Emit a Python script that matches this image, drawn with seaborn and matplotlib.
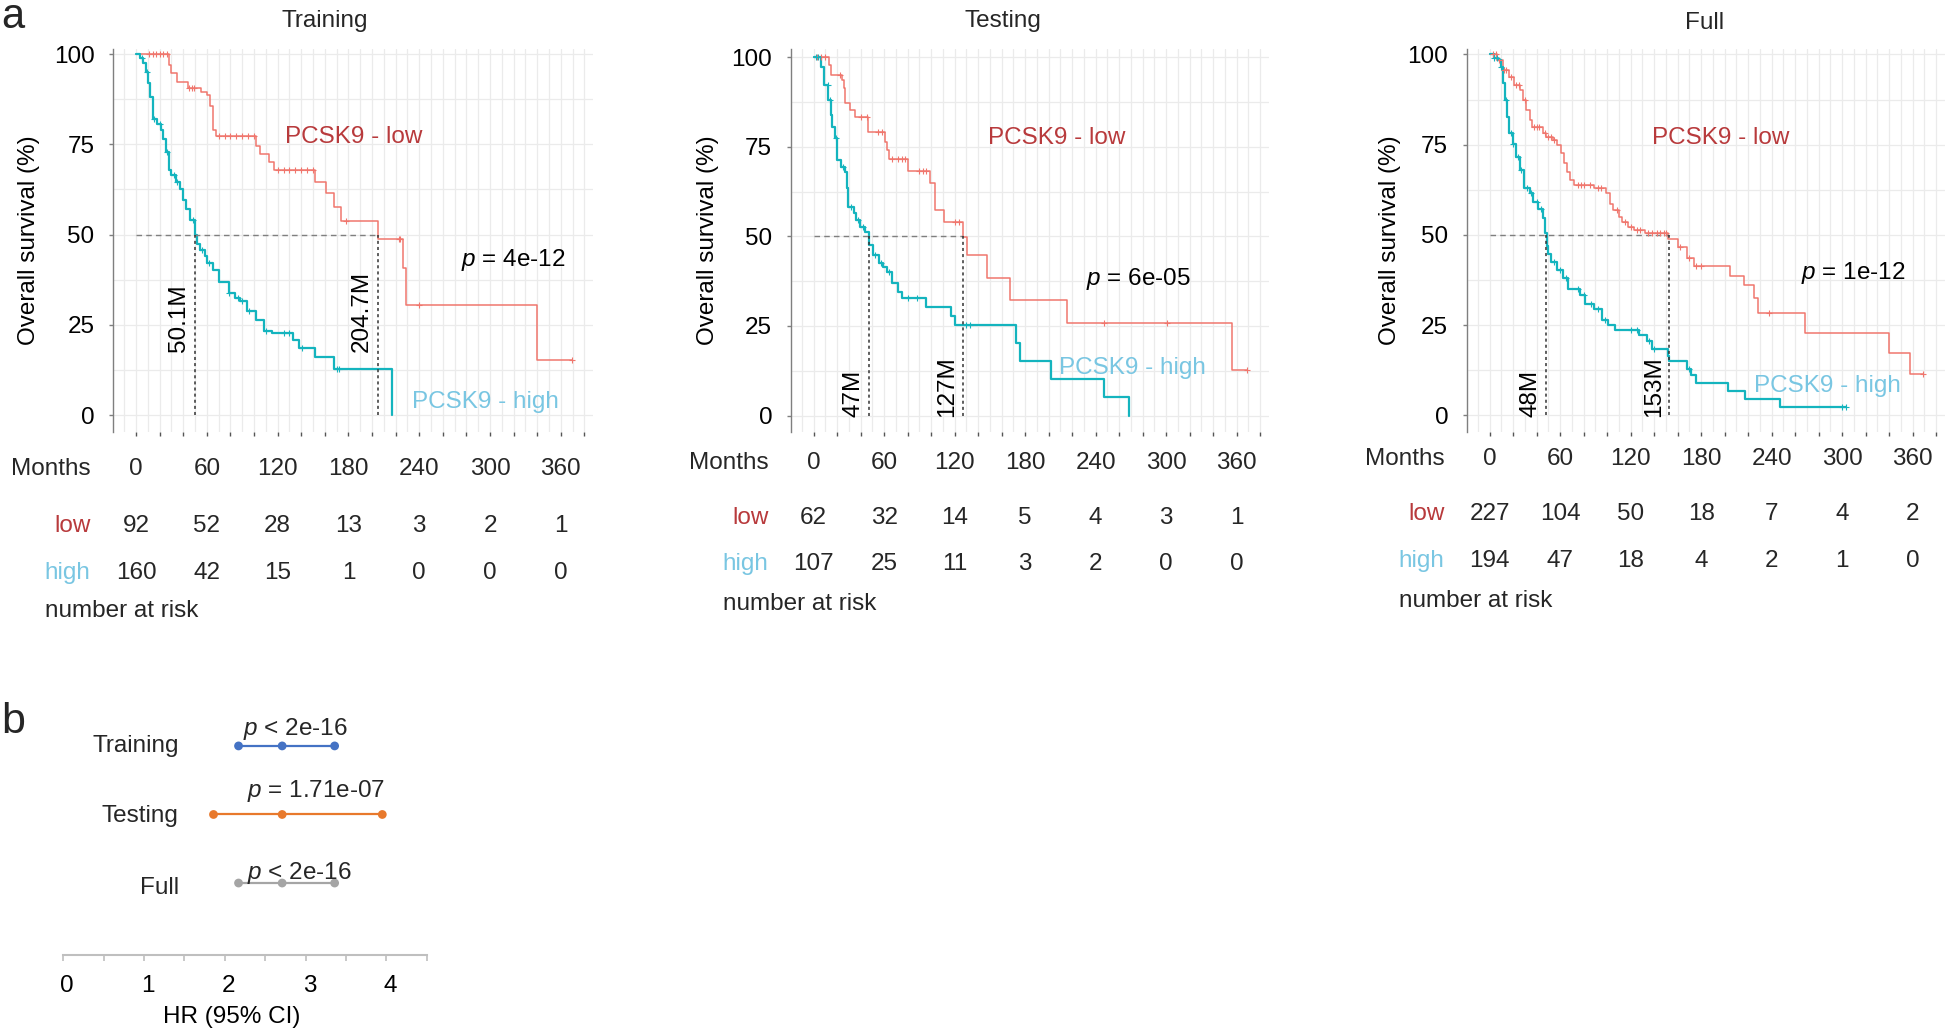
import numpy as np
import pandas as pd
import matplotlib
matplotlib.use("Agg")
import matplotlib.pyplot as plt
import matplotlib.transforms as mtransforms
from matplotlib.ticker import MultipleLocator
import seaborn as sns

# ======================================
# DATA
# ======================================

panel_names = ["Training", "Testing", "Full"]

# Kaplan-Meier steps: month of the step and survival (%) after it
train_low_time = [0, 27.5, 30, 35, 44, 55, 60, 62.5, 65, 68, 102, 105, 113, 117,
                  152, 161, 168, 174, 204.7, 226, 228.5, 340]
train_low_surv = [100, 97, 94.7, 92.2, 90.6, 89.5, 88.7, 85.5, 79, 77.2, 74.4, 72.4, 70, 67.8,
                  64.5, 61.5, 57.6, 53.8, 48.8, 40.7, 30.6, 15.3]
train_low_end = 369.5
train_low_cens = [11, 14, 17, 20, 23, 26, 45, 47, 49, 70, 75, 80, 85, 90, 95, 100, 120, 125,
                  130, 135, 140, 145, 150, 178, 223, 224, 240, 369.5]

train_high_time = [0, 3, 5.5, 8, 10, 12, 14.6, 18, 21, 23, 25, 27.5, 30, 34, 37, 40, 42, 46,
                   50.1, 52, 54, 58, 60, 65, 70, 79, 84, 88, 94, 102, 108.6, 115, 133, 138,
                   152, 168, 217]
train_high_surv = [100, 99, 97.5, 95, 92, 88, 82, 80.5, 79, 76.5, 73, 68, 66.5, 64.7, 62.5,
                   59.5, 57, 54, 50, 47.5, 45.8, 44, 42, 40.3, 36.8, 33.8, 32.5, 31.5, 28.7,
                   26.4, 23.2, 22.7, 20.9, 18.7, 16.1, 12.9, 0]
train_high_end = 217
train_high_cens = [5, 9, 15, 20, 26, 32, 35, 48, 56, 62, 79, 86, 90, 96, 110, 125, 130, 141,
                   170, 172]

test_low_time = [0, 13, 15, 24.5, 26, 27, 31, 35, 46.4, 61, 62.7, 64, 80, 98.7, 103, 111,
                 127.5, 130.7, 147.7, 167, 216, 356]
test_low_surv = [100, 97.9, 95, 93.7, 91.3, 87.2, 85.3, 83.2, 79, 76.4, 74.1, 71.5, 68.3, 64.8,
                 57.5, 54.1, 49.7, 44.8, 38.5, 32.2, 25.9, 12.8]
test_low_end = 368.6
test_low_cens = [3, 6, 10, 22, 40, 45, 55, 58, 67, 72, 75, 78, 90, 93, 96, 120, 124, 247, 301,
                 368.6]

test_high_time = [0, 6.5, 9, 12.4, 14.7, 16, 18, 20, 23, 27, 28, 29, 34, 36, 39, 44, 47.4,
                  50.5, 55.6, 59, 62, 67, 72, 75, 95.8, 117, 120, 172, 176, 202, 246.7, 268]
test_high_surv = [100, 97.4, 92.3, 88, 83.9, 80.6, 77.4, 71.3, 69.5, 68, 63.4, 58.3, 56.4,
                  54.6, 52.7, 51.3, 47.6, 44.8, 42.5, 41.5, 40.1, 36.9, 34.5, 32.7, 30.4, 27.7,
                  25.2, 20.3, 15.3, 10.2, 5.2, 0]
test_high_end = 268
test_high_cens = [2, 4, 12, 14, 19, 25, 32, 38, 42, 52, 57, 64, 80, 88, 130, 133]

full_low_time = [0, 6, 11.7, 16.5, 21, 26, 28.5, 31, 34, 36, 45, 48, 54, 57.6, 60.8, 63.3,
                 65.5, 68.7, 71.8, 89, 98.7, 102, 105, 110, 113, 117.7, 122.5, 132, 152, 160,
                 168, 174, 204.7, 216.5, 225, 228.5, 268, 340, 357.6]
full_low_surv = [100, 98.5, 95.7, 93.8, 91.5, 90.1, 87.3, 84.6, 81.8, 80, 78.1, 77.2, 76.3,
                 74.9, 72.6, 69.8, 67.5, 65.2, 63.8, 62.9, 61.5, 58.7, 56.9, 55, 53.6, 52.3,
                 51.3, 50.4, 48.8, 46.7, 43.5, 41.4, 38.6, 36.1, 32.6, 28.4, 22.9, 17.2, 11.6]
full_low_end = 369
full_low_cens = [3, 5, 8, 12, 14, 18, 22, 25, 30, 38, 40, 42, 47, 50, 52, 55, 75, 78, 80, 85,
                 92, 95, 108, 115, 120, 125, 128, 135, 138, 142, 145, 148, 150, 162, 170, 176,
                 180, 238, 369]

full_high_time = [0, 3.8, 7, 9.5, 11, 13.3, 15, 16.5, 19.6, 22.8, 26, 29, 34, 37, 41, 45,
                  47.5, 48.5, 49.7, 52, 57.6, 62, 67, 76.6, 81, 89, 95.6, 101, 106.6, 127,
                  133.5, 138, 152, 153, 167.7, 171, 176, 203, 217, 247.5]
full_high_surv = [100, 99, 98.4, 96.6, 92, 87.3, 82.7, 78.1, 75.3, 71.7, 68, 62.9, 61.5, 59.2,
                  57.3, 54.6, 50.4, 47, 44.8, 42.6, 40.3, 38, 34.9, 33.3, 31, 29.4, 26.4, 25,
                  23.6, 22.4, 20.7, 18.3, 16.4, 15.1, 13, 11.2, 8.9, 6.8, 4.6, 2.4]
full_high_end = 303
full_high_cens = [4, 6, 10, 14, 18, 20, 24, 27, 32, 35, 40, 44, 55, 60, 65, 75, 80, 86, 92,
                  98, 120, 125, 136, 140, 170, 300, 303]

# medians (months) and log-rank p
train_medians = [50.1, 204.7]
test_medians = [47, 127]
full_medians = [48, 153]
median_labels_train = ["50.1M", "204.7M"]
median_labels_test = ["47M", "127M"]
median_labels_full = ["48M", "153M"]
km_pvalues = ["4e-12", "6e-05", "1e-12"]

# number at risk
risk_months = [0, 60, 120, 180, 240, 300, 360]
train_risk_low = [92, 52, 28, 13, 3, 2, 1]
train_risk_high = [160, 42, 15, 1, 0, 0, 0]
test_risk_low = [62, 32, 14, 5, 4, 3, 1]
test_risk_high = [107, 25, 11, 3, 2, 0, 0]
full_risk_low = [227, 104, 50, 18, 7, 4, 2]
full_risk_high = [194, 47, 18, 4, 2, 1, 0]

# forest plot (panel b)
forest_labels = ["Training", "Testing", "Full"]
forest_hr = [2.71, 2.71, 2.71]
forest_lower = [2.17, 1.86, 2.17]
forest_upper = [3.36, 3.95, 3.36]
forest_p = ["< 2e-16", "= 1.71e-07", "< 2e-16"]

# ======================================
# STYLE
# ======================================

W, H = 1945, 1033
FS = 17.5
RED = "#F0766D"
CYAN = "#14B4BE"
RED_TXT = "#B83A3C"
CYAN_TXT = "#79C6E2"
GRID = "#EBEBEB"
FOREST_COLORS = ["#4472C4", "#E8792C", "#A5A5A5"]

sns.set_theme(style="whitegrid")
plt.rcParams["font.family"] = ["Liberation Sans", "DejaVu Sans"]
plt.rcParams["mathtext.fontset"] = "custom"
plt.rcParams["mathtext.it"] = "Liberation Sans:italic"
plt.rcParams["mathtext.rm"] = "Liberation Sans"
plt.rcParams["axes.unicode_minus"] = False

fig = plt.figure(figsize=(W / 100, H / 100), dpi=100)
fig.patch.set_facecolor("white")


def fy(p):
    return 1 - p / H


def add_axes_px(left, top, right, bottom):
    return fig.add_axes([left / W, 1 - bottom / H, (right - left) / W, (bottom - top) / H])


def step_frame(times, surv, end):
    return pd.DataFrame({"t": list(times) + [end], "s": list(surv) + [surv[-1]]})


def censor_frame(times, surv, cens):
    idx = np.searchsorted(np.array(times), np.array(cens), side="right") - 1
    return pd.DataFrame({"t": cens, "s": np.array(surv)[idx]})


panels = [
    dict(name="Training",
         low=(train_low_time, train_low_surv, train_low_end, train_low_cens),
         high=(train_high_time, train_high_surv, train_high_end, train_high_cens),
         medians=train_medians, mlabels=median_labels_train, p=km_pvalues[0],
         risk_low=train_risk_low, risk_high=train_risk_high,
         rect=(113.3, 49, 593.3, 431.7), ylim=(-4.6, 101.4), title_xy=(325, 26.7),
         ylab_x=-0.153, rows=(475.4, 531.7, 578.7, 616.7), mlab_y=17.5,
         low_xy=(126, 75.3), high_xy=(234, 2.1), p_xy=(275, 41.4)),
    dict(name="Testing",
         low=(test_low_time, test_low_surv, test_low_end, test_low_cens),
         high=(test_high_time, test_high_surv, test_high_end, test_high_cens),
         medians=test_medians, mlabels=median_labels_test, p=km_pvalues[1],
         risk_low=test_risk_low, risk_high=test_risk_high,
         rect=(791, 49, 1269, 431.7), ylim=(-4.5, 102.3), title_xy=(1003, 26.7),
         ylab_x=-0.151, rows=(468.7, 523.7, 570.4, 610.4), mlab_y=-0.3,
         low_xy=(148.6, 75.9), high_xy=(208.4, 11.6), p_xy=(231.4, 36.3)),
    dict(name="Full",
         low=(full_low_time, full_low_surv, full_low_end, full_low_cens),
         high=(full_high_time, full_high_surv, full_high_end, full_high_cens),
         medians=full_medians, mlabels=median_labels_full, p=km_pvalues[2],
         risk_low=full_risk_low, risk_high=full_risk_high,
         rect=(1467, 49, 1945, 431.7), ylim=(-4.5, 101.5), title_xy=(1705, 29.3),
         ylab_x=-0.138, rows=(465.4, 520.4, 566.7, 606.7), mlab_y=-0.3,
         low_xy=(138.5, 75.3), high_xy=(224.6, 6.5), p_xy=(264.6, 37.8)),
]

# ======================================
# PANEL a : KAPLAN-MEIER CURVES
# ======================================

for pn in panels:
    ax = add_axes_px(*pn["rect"])
    ax.set_facecolor("white")
    ax.set_axisbelow(True)

    for key, color, lw in [("low", RED, 1.1), ("high", CYAN, 1.6)]:
        times, surv, end, cens = pn[key]
        sns.lineplot(data=step_frame(times, surv, end), x="t", y="s", drawstyle="steps-post",
                     estimator=None, sort=False, color=color, lw=lw, ax=ax)
        cf = censor_frame(times, surv, cens)
        ax.scatter(cf["t"], cf["s"], marker="+", s=24, color=color, linewidths=0.8, zorder=3)

    # median guides
    m_hi = max(pn["medians"])
    ax.plot([0, m_hi], [50, 50], color="#7F7F7F", lw=1.0, dashes=(4, 3))
    for m, lab in zip(pn["medians"], pn["mlabels"]):
        ax.plot([m, m], [0, 50], color="#333333", lw=1.1, dashes=(2, 2))
        ax.text(m - 4, pn["mlab_y"], lab, rotation=90, ha="right", va="bottom",
                fontsize=FS, color="black")

    ax.text(pn["low_xy"][0], pn["low_xy"][1], "PCSK9 - low", color=RED_TXT, fontsize=FS,
            ha="left", va="baseline")
    ax.text(pn["high_xy"][0], pn["high_xy"][1], "PCSK9 - high", color=CYAN_TXT, fontsize=FS,
            ha="left", va="baseline")
    ax.text(pn["p_xy"][0], pn["p_xy"][1], "$p$ = " + pn["p"], color="black", fontsize=FS,
            ha="left", va="baseline")

    ax.set_xlim(-19.3, 387.5)
    ax.set_ylim(*pn["ylim"])
    ax.xaxis.set_major_locator(MultipleLocator(20))
    ax.xaxis.set_minor_locator(MultipleLocator(10))
    ax.set_yticks([0, 25, 50, 75, 100])
    ax.yaxis.set_minor_locator(MultipleLocator(12.5))
    ax.grid(which="both", color=GRID, lw=0.9)
    ax.tick_params(axis="x", which="major", length=3, width=1, color="#555555",
                   bottom=True, labelbottom=False)
    ax.tick_params(axis="x", which="minor", length=0)
    ax.tick_params(axis="y", which="major", length=3, width=1, color="#7F7F7F", left=True,
                   labelsize=FS, pad=10.5, labelcolor="black")
    ax.tick_params(axis="y", which="minor", length=0)
    for side in ["top", "right", "bottom"]:
        ax.spines[side].set_visible(False)
    ax.spines["left"].set_color("#7F7F7F")
    ax.spines["left"].set_linewidth(1.0)
    ax.set_xlabel("")
    ax.set_ylabel("Overall survival (%)", fontsize=FS, color="black")
    ax.yaxis.set_label_coords(pn["ylab_x"], 0.5)

    fig.text(pn["title_xy"][0] / W, fy(pn["title_xy"][1]), pn["name"], ha="center",
             va="baseline", fontsize=FS)

    # number at risk table
    tr = mtransforms.blended_transform_factory(ax.transData, fig.transFigure)
    r_month, r_low, r_high, r_nar = pn["rows"]
    ax.text(-38.5, fy(r_month), "Months", transform=tr, ha="right", va="baseline", fontsize=FS)
    ax.text(-38.5, fy(r_low), "low", transform=tr, ha="right", va="baseline", fontsize=FS,
            color=RED_TXT)
    ax.text(-38.5, fy(r_high), "high", transform=tr, ha="right", va="baseline", fontsize=FS,
            color=CYAN_TXT)
    ax.text(-77, fy(r_nar), "number at risk", transform=tr, ha="left", va="baseline",
            fontsize=FS)
    for m, nl, nh in zip(risk_months, pn["risk_low"], pn["risk_high"]):
        ax.text(m, fy(r_month), str(m), transform=tr, ha="center", va="baseline", fontsize=FS)
        ax.text(m, fy(r_low), str(nl), transform=tr, ha="center", va="baseline", fontsize=FS)
        ax.text(m, fy(r_high), str(nh), transform=tr, ha="center", va="baseline", fontsize=FS)

fig.text(1 / W, fy(27.5), "a", fontsize=30, ha="left", va="baseline")

# ======================================
# PANEL b : FOREST PLOT
# ======================================

fig.text(1 / W, fy(733), "b", fontsize=31, ha="left", va="baseline")

axf = add_axes_px(63.3, 700, 426.7, 955)
axf.set_facecolor("white")
rows_y = [3, 2, 1]
forest_df = pd.DataFrame({
    "label": forest_labels * 3,
    "hr": forest_lower + forest_hr + forest_upper,
    "y": rows_y * 3,
})
for y, lo, hi, c in zip(rows_y, forest_lower, forest_upper, FOREST_COLORS):
    axf.plot([lo, hi], [y, y], color=c, lw=1.6, zorder=2)
sns.scatterplot(data=forest_df, x="hr", y="y", hue="label", palette=FOREST_COLORS,
                hue_order=forest_labels, s=40, edgecolor="none", legend=False, zorder=3,
                ax=axf)

trf = mtransforms.blended_transform_factory(axf.transData, fig.transFigure)
label_base = [751.7, 821.7, 893.7]
p_base = [734.7, 796.7, 878.7]
p_left = [2.22, 2.27, 2.27]
for lab, lb, pb, pl, pv in zip(forest_labels, label_base, p_base, p_left, forest_p):
    axf.text(1.43, fy(lb), lab, transform=trf, ha="right", va="baseline", fontsize=FS)
    axf.text(pl, fy(pb), "$p$ " + pv, transform=trf, ha="left", va="baseline", fontsize=FS)

axf.set_xlim(0, 4.5)
axf.set_ylim(-0.05, 3.67)
axf.set_xticks([0, 1, 2, 3, 4])
axf.xaxis.set_minor_locator(MultipleLocator(0.5))
axf.set_yticks([])
axf.grid(False)
for side in ["top", "right", "left"]:
    axf.spines[side].set_visible(False)
axf.spines["bottom"].set_color("#BFBFBF")
axf.spines["bottom"].set_linewidth(1.5)
axf.tick_params(axis="x", which="both", length=4, width=1.2, color="#BFBFBF", bottom=True,
                labelsize=FS, pad=10.5, labelcolor="black")
shift = mtransforms.ScaledTranslation(4 / 100, 0, fig.dpi_scale_trans)
for lbl in axf.get_xticklabels():
    lbl.set_transform(lbl.get_transform() + shift)
axf.set_xlabel("HR (95% CI)", fontsize=FS, color="black")
axf.set_ylabel("")
axf.xaxis.set_label_coords((232 - 63.3) / (426.7 - 63.3), -0.2)

plt.savefig("out.png", dpi=100, facecolor="white")
plt.close()
